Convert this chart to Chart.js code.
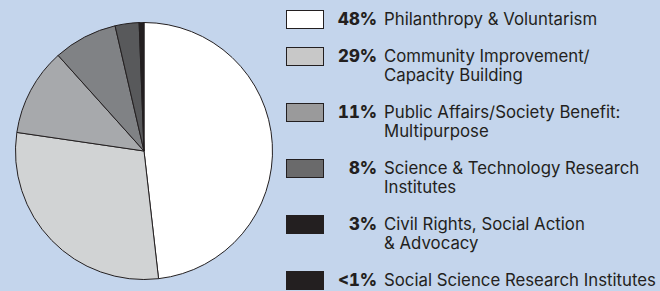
<!DOCTYPE html>
<html>
<head>
<meta charset="utf-8">
<script src="https://cdn.jsdelivr.net/npm/chart.js@4/dist/chart.umd.min.js"></script>
<style>
  html, body { margin: 0; padding: 0; }
  body { width: 660px; height: 291px; background: #c4d5ec; position: relative; overflow: hidden; font-family: "Inter", "Noto Sans", sans-serif; color: #231f20; }
  #pieBox { position: absolute; left: 15px; top: 22px; width: 258px; height: 258px; }
  #legend { position: absolute; left: 286px; top: 10px; display: flex; flex-direction: column; gap: 18px; }
  .row { display: flex; align-items: flex-start; font-size: 16.8px; line-height: 19px; }
  .swatch { width: 36px; height: 17px; border: 1px solid #231f20; flex: none; }
  .pct { width: 53px; text-align: right; font-weight: 800; flex: none; font-variant-numeric: tabular-nums; }
  .label { margin-left: 7px; }
</style>
</head>
<body>
<div id="pieBox"><canvas id="pie"></canvas></div>
<div id="legend"></div>
<script>
const categories = [
  "Philanthropy & Voluntarism",
  "Community Improvement/<br>Capacity Building",
  "Public Affairs/Society Benefit:<br>Multipurpose",
  "Science & Technology Research<br>Institutes",
  "Civil Rights, Social Action<br>& Advocacy",
  "Social Science Research Institutes"
];
const shares = [48, 29, 11, 8, 3, 0.6];
const shareLabels = ["48%", "29%", "11%", "8%", "3%", "&lt;1%"];
const sliceColors = ["#ffffff", "#d1d3d4", "#a7a9ac", "#808285", "#58595b", "#231f20"];
const swatchColors = ["#ffffff", "#c8c8c8", "#9a9a9b", "#6a6a6b", "#231f20", "#231f20"];

new Chart(document.getElementById("pie"), {
  type: "pie",
  data: {
    labels: categories.map(label => label.replace("<br>", " ")),
    datasets: [{
      data: shares,
      backgroundColor: sliceColors,
      borderColor: "#231f20",
      borderWidth: 1
    }]
  },
  options: {
    responsive: true,
    maintainAspectRatio: false,
    animation: false,
    layout: { padding: 0 },
    plugins: { legend: { display: false }, tooltip: { enabled: false } }
  }
});

document.getElementById("legend").innerHTML = categories.map((label, index) => `
  <div class="row">
    <span class="swatch" style="background:${swatchColors[index]}"></span>
    <span class="pct">${shareLabels[index]}</span>
    <span class="label">${label.replace(/&(?!lt;)/g, "&amp;")}</span>
  </div>
`).join("");
</script>
</body>
</html>
